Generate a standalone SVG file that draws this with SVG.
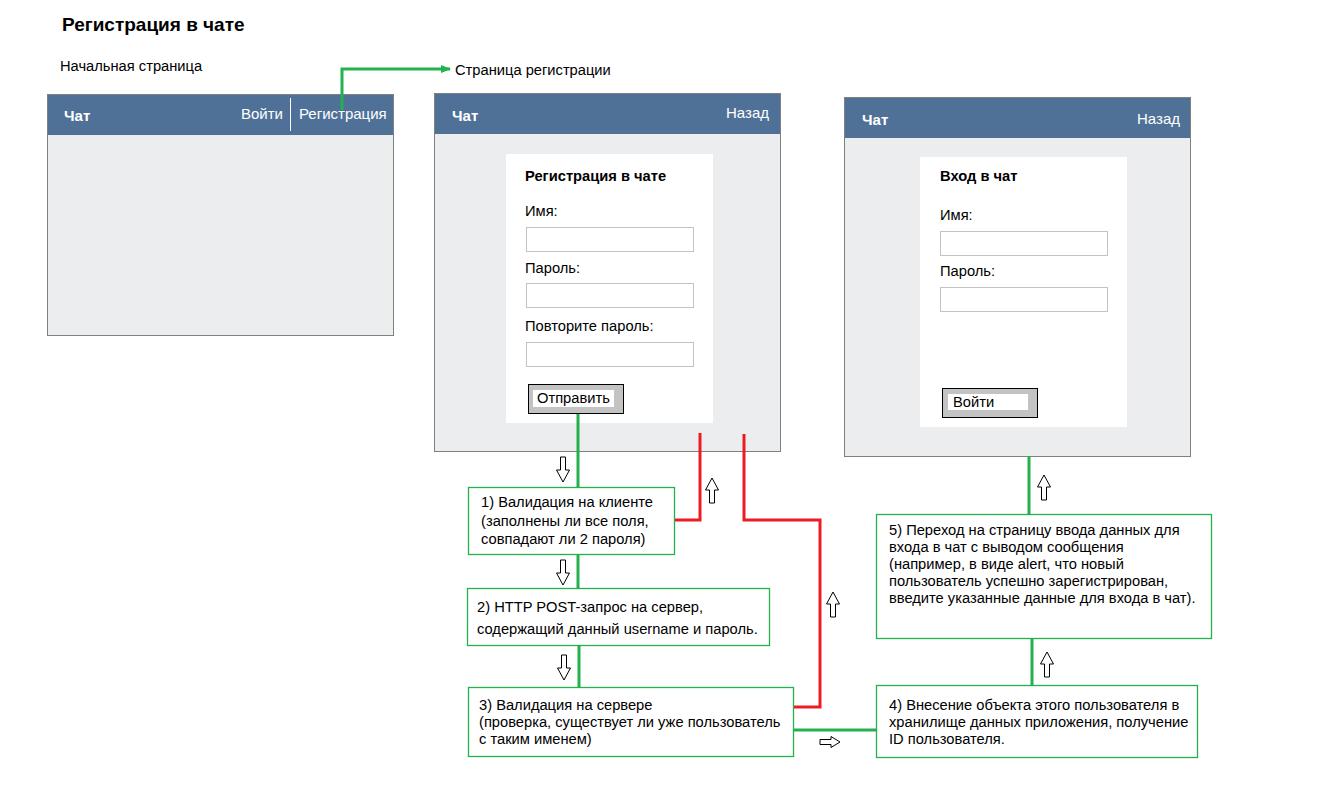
<svg xmlns="http://www.w3.org/2000/svg" width="1332" height="796" viewBox="0 0 1332 796">
<style>
text{font-family:"Liberation Sans",Arial,sans-serif;fill:#000}
.t14{font-size:14.7px}
.t15{font-size:15px}
.b{font-weight:bold}
.w{fill:#fff}
.page{fill:#ECEDEF;stroke:#808080;stroke-width:1}
.hdr{fill:#4F7198}
.panel{fill:#fff}
.inp{fill:#fff;stroke:#C3C3C3;stroke-width:1}
.btn{fill:#C3C3C3;stroke:#000;stroke-width:1}
.box{fill:#fff;stroke:#22B14C;stroke-width:1.3}
.g{fill:none;stroke:#22B14C;stroke-width:3}
.r{fill:none;stroke:#ED1C24;stroke-width:3}
.ha{fill:#fff;stroke:#000;stroke-width:1}
</style>
<defs>
<path id="down" class="ha" d="M-2.5,0 H2.5 V13 H6.5 L0,25 L-6.5,13 H-2.5 Z"/>
<marker id="gh" markerWidth="10" markerHeight="8" refX="9" refY="4" orient="auto" markerUnits="userSpaceOnUse">
<path d="M0,0 L10,4 L0,8 Z" fill="#22B14C"/>
</marker>
</defs>
<rect width="1332" height="796" fill="#fff"/>
<text x="62" y="31" class="b" font-size="19">Регистрация в чате</text>
<text x="60" y="71" class="t14">Начальная страница</text>
<text x="455" y="75" class="t14">Страница регистрации</text>

<g id="page-start">
<rect x="47.5" y="94.5" width="346" height="241" class="page"/>
<rect x="48" y="95" width="345" height="40" class="hdr"/>
<text x="64" y="121" class="t15 b w">Чат</text>
<text x="241" y="119" class="t15 w">Войти</text>
<line x1="290.5" y1="98" x2="290.5" y2="131" stroke="#fff" stroke-width="1"/>
<text x="299" y="119" class="t15 w">Регистрация</text>
</g>

<g id="page-register">
<rect x="434.5" y="93.5" width="346" height="358" class="page"/>
<rect x="435" y="94" width="345" height="40" class="hdr"/>
<text x="452" y="121" class="t15 b w">Чат</text>
<text x="726" y="118" class="t15 w">Назад</text>
<rect x="506" y="154" width="207" height="269" class="panel"/>
<text x="525" y="181" class="t14 b">Регистрация в чате</text>
<text x="525" y="216" class="t14">Имя:</text>
<rect x="526.5" y="227.5" width="167" height="24" class="inp"/>
<text x="525" y="273" class="t14">Пароль:</text>
<rect x="526.5" y="283.5" width="167" height="24" class="inp"/>
<text x="525" y="331" class="t14">Повторите пароль:</text>
<rect x="526.5" y="342.5" width="167" height="24" class="inp"/>
<rect x="528.5" y="384.5" width="95" height="29" class="btn"/>
<rect x="533" y="390" width="81" height="17" fill="#fff"/>
<text x="537" y="403" class="t14">Отправить</text>
</g>

<g id="page-login">
<rect x="844.5" y="97.5" width="346" height="359" class="page"/>
<rect x="845" y="98" width="345" height="40" class="hdr"/>
<text x="862" y="125" class="t15 b w">Чат</text>
<text x="1137" y="124" class="t15 w">Назад</text>
<rect x="920" y="157" width="207" height="270" class="panel"/>
<text x="940" y="181" class="t14 b">Вход в чат</text>
<text x="940" y="220" class="t14">Имя:</text>
<rect x="940.5" y="231.5" width="167" height="24" class="inp"/>
<text x="940" y="276" class="t14">Пароль:</text>
<rect x="940.5" y="287.5" width="167" height="24" class="inp"/>
<rect x="942.5" y="388.5" width="95" height="29" class="btn"/>
<rect x="948" y="394" width="80" height="16" fill="#fff"/>
<text x="953" y="407" class="t14">Войти</text>
</g>

<g id="connectors">
<polyline class="g" points="342,110 342,69 450,69" marker-end="url(#gh)"/>
<line class="g" x1="578" y1="414" x2="578" y2="487"/>
<line class="g" x1="578" y1="555" x2="578" y2="588"/>
<line class="g" x1="579" y1="645" x2="579" y2="688"/>
<line class="g" x1="793" y1="730" x2="876" y2="730"/>
<line class="g" x1="1032" y1="638" x2="1032" y2="686"/>
<line class="g" x1="1029" y1="456" x2="1029" y2="514"/>
<polyline class="r" points="700,433 700,520 675,520"/>
<polyline class="r" points="744,434 744,520 820,520 820,707 793,707"/>
<use href="#down" transform="translate(563,457)"/>
<use href="#down" transform="translate(563,560)"/>
<use href="#down" transform="translate(564,655)"/>
<use href="#down" transform="translate(712,503) rotate(180)"/>
<use href="#down" transform="translate(833,617) rotate(180)"/>
<use href="#down" transform="translate(1044,500) rotate(180)"/>
<use href="#down" transform="translate(1047,677) rotate(180)"/>
<path class="ha" d="M820,739.5 H831 V736.5 L840,742 L831,747.5 V744.5 H820 Z"/>
</g>

<g id="step1">
<rect x="468.5" y="487.5" width="206" height="67" class="box"/>
<text class="t14"><tspan x="481" y="507">1) Валидация на клиенте</tspan><tspan x="481" y="526">(заполнены ли все поля,</tspan><tspan x="481" y="544">совпадают ли 2 пароля)</tspan></text>
</g>
<g id="step2">
<rect x="467.5" y="588.5" width="302" height="57" class="box"/>
<text class="t14"><tspan x="477" y="612">2) HTTP POST-запрос на сервер,</tspan><tspan x="477" y="634">содержащий данный username и пароль.</tspan></text>
</g>
<g id="step3">
<rect x="468.5" y="687.5" width="325" height="69" class="box"/>
<text class="t14"><tspan x="479" y="710">3) Валидация на сервере</tspan><tspan x="479" y="727">(проверка, существует ли уже пользователь</tspan><tspan x="479" y="744">с таким именем)</tspan></text>
</g>
<g id="step4">
<rect x="876.5" y="685.5" width="321" height="72" class="box"/>
<text class="t14"><tspan x="889" y="710">4) Внесение объекта этого пользователя в</tspan><tspan x="889" y="727">хранилище данных приложения, получение</tspan><tspan x="889" y="744">ID пользователя.</tspan></text>
</g>
<g id="step5">
<rect x="876.5" y="514.5" width="335" height="124" class="box"/>
<text class="t14"><tspan x="889" y="535">5) Переход на страницу ввода данных для</tspan><tspan x="889" y="552">входа в чат с выводом сообщения</tspan><tspan x="889" y="569">(например, в виде alert, что новый</tspan><tspan x="889" y="586">пользователь успешно зарегистрирован,</tspan><tspan x="889" y="603">введите указанные данные для входа в чат).</tspan></text>
</g>
</svg>
